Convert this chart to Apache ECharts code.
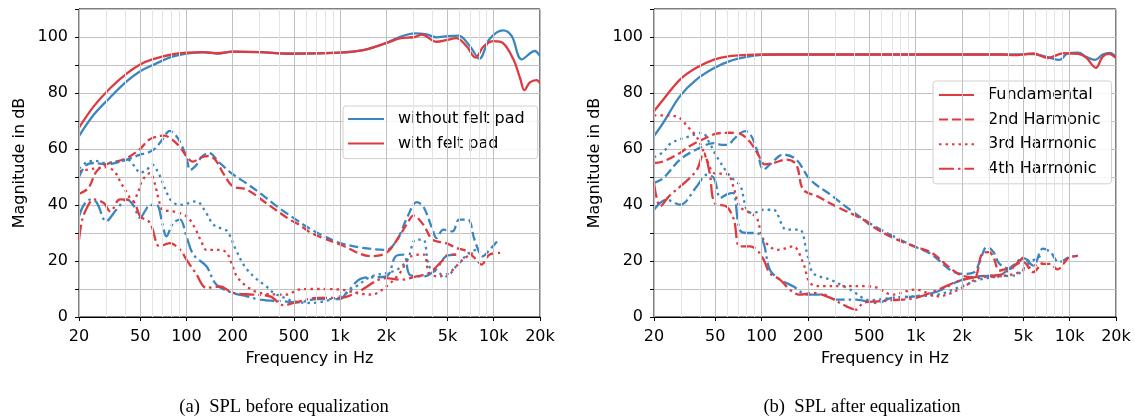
<!DOCTYPE html>
<html><head><meta charset="utf-8">
<script src="https://cdn.jsdelivr.net/npm/echarts@6/dist/echarts.min.js"></script>
<style>html,body{margin:0;padding:0;background:#fff}#c{width:1135px;height:419px}</style>
</head><body><div id="c"></div>
<script>
// ---------- tick / grid definitions ----------
const xTickValues = [20, 50, 100, 200, 500, 1000, 2000, 5000, 10000, 20000];
const xTickLabels = ['20', '50', '100', '200', '500', '1k', '2k', '5k', '10k', '20k'];
const xMinorGrid = [30, 40, 60, 70, 80, 90, 300, 400, 600, 700, 800, 900, 3000, 4000, 6000, 7000, 8000, 9000];

// ---------- (a) SPL before equalization ----------
const aFundBlue = [[20,64.6],[25,72.3],[32,78.5],[41,84.2],[50,87.8],[60,89.9],[80,92.9],[100,94.1],[130,94.5],[160,94.1],[200,94.8],[300,94.6],[472,94.1],[1000,94.4],[1414,95.3],[2000,97.9],[2440,100],[3070,101.3],[3660,100.9],[4240,99.9],[5000,100.3],[5900,100.5],[7000,96.7],[8060,92.2],[9400,99.3],[11500,102.4],[13100,100.3],[15200,92],[18500,95],[20000,93.2]];
const aFundRed = [[20,67.6],[25,75.3],[32,81.8],[41,87],[50,90.2],[60,92],[80,93.75],[100,94.4],[130,94.6],[160,94.2],[200,94.8],[300,94.6],[472,94],[1000,94.4],[1414,95.3],[2000,97.8],[2440,99.5],[3070,100],[3400,100.9],[4240,98.3],[5000,99],[5700,99.6],[6660,96.7],[7600,92.6],[8600,96.7],[10000,98.5],[11500,97.8],[13400,92.1],[14900,85],[15800,81],[17200,83.8],[19000,84.6],[20000,83.5]];
const a2ndBlue = [[20,50],[22,54],[25,55],[30,54.5],[40,56],[50,58],[55,58.5],[62,60],[70,63.5],[78,66.5],[85,65],[92,62],[100,57],[106,52.5],[115,54],[125,57],[140,58.6],[165,55],[200,51],[250,47.5],[300,44.3],[400,39],[500,35.3],[650,31.2],[850,28],[1000,26.4],[1400,24.7],[2000,24],[2350,27.6],[2750,35.9],[3150,41],[3480,39.5],[4000,31.2],[4240,28.2],[4700,31.2],[5400,30.6],[5950,34.8],[6800,34.8],[7500,27.6],[8500,21.7],[9400,24],[10500,27]];
const a2ndRed = [[20,44],[23,46],[26,52],[30,54.5],[40,56.5],[50,60],[56,63],[62,64.2],[72,64.8],[80,63.5],[90,61],[100,57.4],[110,55.5],[125,57],[140,57.5],[155,56],[175,51],[200,46.7],[247,45.5],[330,40.7],[470,34.8],[540,33],[650,30],[1000,25.9],[1600,21.7],[2000,22.9],[2350,27.6],[2750,33.6],[3000,36.2],[3480,33],[4000,27.6],[4900,26.4],[5700,24.7],[6660,23.5],[7700,20.5],[8300,18.7],[9400,22.3],[11000,22.9]];
const a3rdBlue = [[20,53],[22,55],[25,55.8],[30,55],[35,55.5],[42,56],[47,53],[50,51.5],[55,52.5],[60,54.4],[65,52],[70,48],[75,44],[80,41.5],[90,40],[100,40.5],[115,41.3],[122,40.7],[135,37],[150,33],[170,31.5],[185,30.6],[210,24],[240,18],[280,14],[330,11],[370,8.6],[450,6.5],[500,5.6],[650,5],[1000,7.4],[1270,10.9],[1600,14.5],[2000,15.7],[2350,16.9],[2750,20.5],[3100,27.6],[3480,27.6],[3800,18.1],[4400,15.7],[4900,14.5],[5700,18.1],[6900,22.9],[7700,24]];
const a3rdRed = [[20,52],[25,53],[30,53.5],[34,52],[37,48.5],[41,44.3],[45,41.3],[48,44],[52,49],[58,51.4],[62,48],[66,42],[70,38.3],[82,37.7],[100,36],[112,32.4],[125,27],[135,24],[165,24],[183,22.9],[200,18],[213,14.5],[247,10.9],[300,8.6],[450,8],[540,9.8],[700,10],[1000,9.8],[1270,8.6],[1600,8],[2000,10.9],[2450,15.7],[2900,21.7],[3500,22.3],[3800,15.7],[4400,14.5],[5100,15.7],[6300,20.5],[7300,22.9]];
const a4thBlue = [[20,36],[21.5,40],[23.5,41.9],[26,41],[30,34.2],[35,38.3],[41,42],[45,40],[50,35.4],[54,38],[58,40],[64,40],[70,33],[74,28.8],[82,33.6],[91,34.8],[100,28.8],[111,22.3],[135,18.1],[157,11.5],[200,8.6],[247,7.4],[300,6.2],[430,5.6],[540,5.2],[700,6.4],[1000,6.4],[1100,8.6],[1400,13.9],[2000,14.5],[2300,21.7],[2600,22.3],[2850,15],[3500,14.5],[4200,16.9],[4900,21.7],[5700,22.3]];
const a4thRed = [[20,27.6],[21,34.8],[23,40],[24.8,42],[29,40.7],[32,37.7],[37,42],[45,41.3],[50,36],[58,33.6],[67,25.2],[78,26.4],[91,24],[100,20.5],[115,15.7],[135,10.4],[165,10.9],[200,8.6],[270,8],[350,7.4],[430,4.2],[500,5],[700,6.8],[1000,6.8],[1270,8.6],[2000,13.9],[2450,13.3],[3150,14.5],[3800,15.7],[4700,20.5],[5100,22.3],[5700,22.3]];

// ---------- (b) SPL after equalization ----------
const bFundBlue = [[20,64.6],[23,69.4],[29.5,78.9],[37.7,84.8],[49.5,89],[62,91.4],[80,92.9],[100,93.6],[130,93.75],[500,93.75],[2000,93.75],[3700,93.75],[5000,93.8],[5800,93.9],[7200,92.8],[8600,91.8],[9600,94],[11400,94.4],[12800,92.9],[14600,91.8],[16400,93.75],[18300,94.3],[20000,92.7]];
const bFundRed = [[20,73.5],[23,77.7],[29.5,84.8],[37.7,89],[49.5,92],[62,93.2],[80,93.6],[100,93.75],[500,93.75],[3700,93.75],[4300,93.5],[5800,94.1],[7200,92.5],[9100,94.2],[11400,94],[12800,92.6],[14800,89],[16400,93],[18000,94],[20000,92.5]];
const b2ndBlue = [[20,47.9],[23,49.6],[29.5,56.2],[37.7,59.8],[49,62.1],[55,61.5],[60,61.5],[66,63.5],[72,65.5],[78,66.4],[85,65],[93,59.8],[103,52.6],[113,54.4],[138,58],[168,56.2],[207,49],[280,43.7],[375,38.3],[506,33.4],[700,29.1],[1000,25],[1250,22.6],[1700,16.6],[2000,15.4],[2400,16],[2600,19.6],[2900,25],[3200,23.2],[3500,19],[4100,17.2],[5000,20.8],[5800,18.4],[6700,24.4],[7500,23.2],[8500,19.6],[10000,21.4],[11300,21.8]];
const b2ndRed = [[20,55],[23,55.6],[29.5,58.6],[34,61],[41,63.3],[51,65.5],[62,65.8],[72,65.5],[84,62.5],[95,58],[105,54.5],[119,55],[145,56.2],[168,54.4],[186,45.5],[230,43.1],[305,39.5],[456,34.8],[506,32.9],[700,28.5],[1000,25],[1250,23.2],[1700,17.2],[2000,14.8],[2400,14.2],[2700,22.6],[3000,23.2],[3200,21.4],[3500,16.6],[4100,17.8],[5000,19.6],[5800,16],[6700,19],[7500,19],[8300,17],[10000,21.4],[11300,21.8]];
const b3rdBlue = [[20,57],[23,59],[26,62.2],[34,64.5],[41,65.8],[46,62],[51,57.4],[60,51.4],[66,49],[73,46.7],[80,38.3],[88,37.1],[103,38.3],[119,38.3],[145,31.2],[176,31.2],[197,22.9],[216,15.7],[280,13.3],[375,9.8],[506,6],[700,6.8],[1000,7.4],[1400,8],[2000,11],[2600,13.3],[3500,14.5],[4500,15],[5300,18.7],[6100,21],[6700,22.2]];
const b3rdRed = [[20,72],[25,72],[29.5,71],[33,68],[37.7,64.5],[41,60.4],[45,55],[49,51.4],[60,51],[66,46],[72,39.5],[85,37],[93,35.4],[103,27.6],[127,24],[160,25.2],[186,19.3],[207,12.1],[251,11],[375,11],[456,11],[559,10.5],[700,8],[1000,9.8],[1400,7.4],[2000,10.4],[2600,14],[3500,14.5],[4500,15.6],[5300,17.4],[6100,18.6],[6700,19.2]];
const b4thBlue = [[20,38.3],[24,41.9],[29.5,40.1],[38,46.7],[44,50.8],[49,49.6],[54,42.5],[59,43.7],[65,44.3],[72,31.2],[80,30],[93,30],[103,26.4],[113,16.9],[132,13.3],[160,11],[197,8],[251,8],[305,6.2],[410,6.2],[559,5],[700,6.8],[1000,7.4],[1400,9.2],[1900,12.8],[2500,14.5],[3500,15],[4200,18],[5000,21],[5500,19.8]];
const b4thRed = [[20,47.9],[22,39.5],[25,43.1],[31.5,47.9],[38,52.6],[42,58.6],[46,51.4],[49.5,40.7],[59,39.5],[66,34.8],[72,25.2],[84,25.2],[93,24],[103,20.5],[113,15.7],[132,13.3],[152,9.8],[176,8],[216,8.6],[280,6.8],[355,3.8],[410,2.6],[456,5],[559,5.6],[700,6],[1000,6.8],[1400,9.8],[1900,12.8],[2600,14.5],[3500,15],[4200,17.4],[5000,21.4]];

// ---------- styling ----------
const FONT = 'DejaVu Sans';
const BLUE = '#3a86c0';
const RED = '#de3a3f';
const SOLID = 'solid';
const DASHED = [9, 4];
const DOTTED = [2.5, 4];
const DASHDOT = [15, 4, 2.5, 4];
const MAJOR_GRID = '#c0c0c0';
const MINOR_GRID = '#e4e4e4';

function line(name, data, color, dash, gi) {
  return {
    type: 'line', name: name, data: data, xAxisIndex: gi, yAxisIndex: gi,
    symbol: 'none', showSymbol: false, smooth: 0.35, z: 3, silent: true,
    lineStyle: { color: color, width: 2.3, type: dash, cap: 'butt' },
    itemStyle: { color: color }
  };
}
function gridSeries(gi) {
  const d = [];
  xMinorGrid.forEach(v => d.push({ xAxis: v, lineStyle: { color: MINOR_GRID } }));
  xTickValues.forEach(v => d.push({ xAxis: v, lineStyle: { color: MAJOR_GRID } }));
  return {
    type: 'line', name: 'grid' + gi, xAxisIndex: gi, yAxisIndex: gi, data: [], z: 1, silent: true,
    symbol: 'none',
    markLine: { silent: true, symbol: ['none', 'none'], label: { show: false }, animation: false,
      lineStyle: { type: 'solid', width: 1 }, emphasis: { disabled: true }, data: d }
  };
}
function fmtX(v) {
  let best = 0, bd = Infinity;
  xTickValues.forEach((t, i) => { const dd = Math.abs(Math.log(v / t)); if (dd < bd) { bd = dd; best = i; } });
  return xTickLabels[best];
}
function xAxis(gi) {
  return {
    type: 'log', logBase: 10, min: 20, max: 20000, gridIndex: gi,
    name: 'Frequency in Hz', nameLocation: 'middle', nameGap: 34,
    nameTextStyle: { fontSize: 16, color: '#000', fontFamily: FONT },
    axisLine: { show: true, onZero: false, lineStyle: { color: '#000', width: 1 } },
    axisTick: { show: true, customValues: xTickValues, length: 4, lineStyle: { color: '#000', width: 1 } },
    axisLabel: { show: true, customValues: xTickValues, formatter: fmtX, fontSize: 16, color: '#000', fontFamily: FONT, margin: 12 },
    splitLine: { show: false }, minorTick: { show: false }, minorSplitLine: { show: false }
  };
}
function yAxis(gi) {
  return {
    type: 'value', min: 0, max: 110, interval: 10, gridIndex: gi,
    name: 'Magnitude in dB', nameLocation: 'middle', nameGap: 51,
    nameTextStyle: { fontSize: 16, color: '#000', fontFamily: FONT },
    axisLine: { show: true, lineStyle: { color: '#000', width: 1 } },
    axisTick: { show: true, length: 4, lineStyle: { color: '#000', width: 1 } },
    axisLabel: { fontSize: 16, color: '#000', fontFamily: FONT, margin: 11,
      formatter: v => (v % 20 === 0 && v <= 100) ? String(v) : '' },
    splitLine: { show: true, lineStyle: { color: MAJOR_GRID, width: 1 } }
  };
}
const legendBase = {
  orient: 'vertical', itemWidth: 36, itemHeight: 16, itemGap: 8.6,
  backgroundColor: 'rgba(255,255,255,0.85)', borderColor: '#d0d0d0', borderWidth: 1, borderRadius: 3,
  textStyle: { fontSize: 16, color: '#000', fontFamily: FONT, padding: [0, 0, 0, 9] },
  itemStyle: { opacity: 0 },
  selectedMode: false
};

const option = {
  animation: false,
  backgroundColor: '#fff',
  grid: [
    { left: 79, top: 9, width: 461, height: 308, show: true, borderColor: '#000', borderWidth: 1, containLabel: false },
    { left: 654, top: 9, width: 462, height: 308, show: true, borderColor: '#000', borderWidth: 1, containLabel: false }
  ],
  xAxis: [xAxis(0), xAxis(1)],
  yAxis: [yAxis(0), yAxis(1)],
  legend: [
    Object.assign({}, legendBase, { left: 343, top: 106, padding: [5, 13, 7, 4],
      data: ['without felt pad', 'with felt pad'] }),
    Object.assign({}, legendBase, { left: 933, top: 81, padding: [6, 11, 7, 5], itemWidth: 35,
      data: ['Fundamental', '2nd Harmonic', '3rd Harmonic', '4th Harmonic'] })
  ],
  graphic: [
    { type: 'text', style: { text: '(a)  SPL before equalization', x: 284, y: 407, textAlign: 'center', textVerticalAlign: 'middle', font: '18.6px "Liberation Serif", "Times New Roman", serif', fill: '#000' } },
    { type: 'text', style: { text: '(b)  SPL after equalization', x: 862, y: 407, textAlign: 'center', textVerticalAlign: 'middle', font: '18.6px "Liberation Serif", "Times New Roman", serif', fill: '#000' } }
  ],
  series: [
    gridSeries(0), gridSeries(1),
    line('without felt pad', aFundBlue, BLUE, SOLID, 0),
    line('with felt pad', aFundRed, RED, SOLID, 0),
    line('a 2nd blue', a2ndBlue, BLUE, DASHED, 0),
    line('a 2nd red', a2ndRed, RED, DASHED, 0),
    line('a 3rd blue', a3rdBlue, BLUE, DOTTED, 0),
    line('a 3rd red', a3rdRed, RED, DOTTED, 0),
    line('a 4th blue', a4thBlue, BLUE, DASHDOT, 0),
    line('a 4th red', a4thRed, RED, DASHDOT, 0),
    line('b fund blue', bFundBlue, BLUE, SOLID, 1),
    line('Fundamental', bFundRed, RED, SOLID, 1),
    line('b 2nd blue', b2ndBlue, BLUE, DASHED, 1),
    line('2nd Harmonic', b2ndRed, RED, DASHED, 1),
    line('b 3rd blue', b3rdBlue, BLUE, DOTTED, 1),
    line('3rd Harmonic', b3rdRed, RED, DOTTED, 1),
    line('b 4th blue', b4thBlue, BLUE, DASHDOT, 1),
    line('4th Harmonic', b4thRed, RED, DASHDOT, 1)
  ]
};
const chart = echarts.init(document.getElementById('c'), null, { renderer: 'canvas' });
chart.setOption(option);
</script></body></html>
